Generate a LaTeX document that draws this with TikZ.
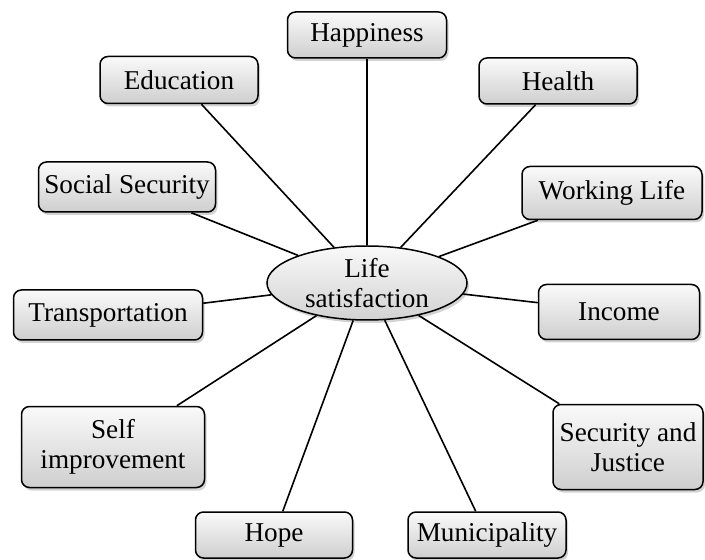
\documentclass[tikz,border=0pt]{standalone}
\usepackage{fontspec}
\setmainfont{Liberation Serif}
\usetikzlibrary{shapes.geometric,shadows}

\tikzset{
  factor/.style={draw, line width=0.75pt, rounded corners=4pt,
    top color=gray!4, bottom color=gray!38, align=center,
    inner sep=2pt, font=\fontsize{13.6}{15}\selectfont,
    drop shadow={shadow xshift=1pt, shadow yshift=-1.5pt, opacity=0.35}},
  hub/.style={draw, ellipse, line width=0.75pt, inner sep=0pt,
    top color=gray!5, bottom color=gray!35, align=center,
    minimum width=100pt, minimum height=37pt,
    font=\fontsize{13.6}{15}\selectfont,
    drop shadow={shadow xshift=1pt, shadow yshift=-1.5pt, opacity=0.35}},
  link/.style={line width=0.8pt}
}

\begin{document}
\begin{tikzpicture}[x=0.5pt,y=-0.5pt] %[scale=0.8]
    \useasboundingbox (0,0) rectangle (705,560);
    \node [hub] (life) at (367,283) {Life\\satisfaction};
    \node [factor, minimum width=79.5pt, minimum height=23pt] (happy) at (367,35) {Happiness};
    \node [factor, minimum width=79pt, minimum height=23.5pt] (edu) at (179,80) {Education};
    \node [factor, minimum width=79pt, minimum height=23pt] (health) at (558,81) {Health};
    \node [factor, minimum width=88.5pt, minimum height=25pt] (social) at (127,187) {Social Security};
    \node [factor, minimum width=90pt, minimum height=26.5pt] (work) at (612,193) {Working Life};
    \node [factor, minimum width=94.5pt, minimum height=25pt] (trans) at (108,315) {Transportation};
    \node [factor, minimum width=80.5pt, minimum height=27.5pt] (income) at (619,312) {Income};
    \node [factor, minimum width=91.5pt, minimum height=40.5pt] (self) at (113,447) {Self\\improvement};
    \node [factor, minimum width=75pt, minimum height=42.5pt] (justice) at (628,447) {Security and\\Justice};
    \node [factor, minimum width=78.5pt, minimum height=23pt] (hope) at (274,535) {Hope};
    \node [factor, minimum width=79pt, minimum height=23pt] (muni) at (487,535) {Municipality};
    \draw [link] (life) -- (happy);
    \draw [link] (life) -- (edu);
    \draw [link] (life) -- (health);
    \draw [link] (life) -- (social);
    \draw [link] (life) -- (work);
    \draw [link] (life) -- (trans);
    \draw [link] (life) -- (income);
    \draw [link] (life) -- (self);
    \draw [link] (life) -- (justice);
    \draw [link] (life) -- (hope);
    \draw [link] (life) -- (muni);
  \end{tikzpicture}
\end{document}
